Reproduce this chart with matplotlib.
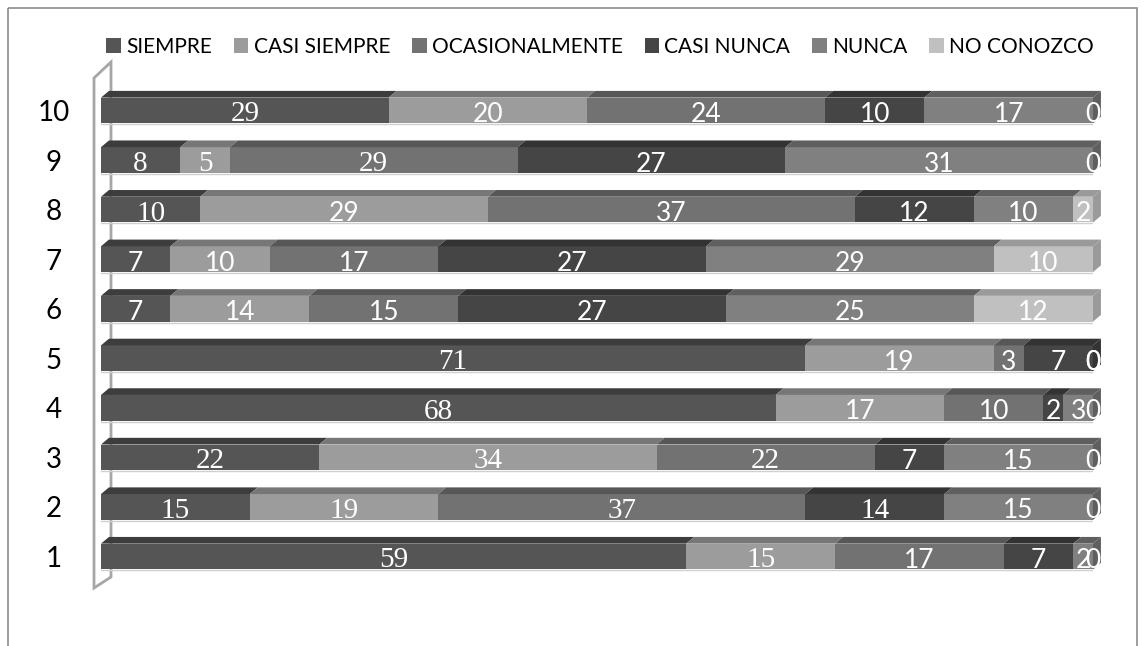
import matplotlib.pyplot as plt
import numpy as np
from matplotlib.patches import Polygon, Rectangle

# datos
filas = ['1', '2', '3', '4', '5', '6', '7', '8', '9', '10']
categorias = ['SIEMPRE', 'CASI SIEMPRE', 'OCASIONALMENTE', 'CASI NUNCA', 'NUNCA', 'NO CONOZCO']
siempre = [59, 15, 22, 68, 71, 7, 7, 10, 8, 29]
casi_siempre = [15, 19, 34, 17, 19, 14, 10, 29, 5, 20]
ocasionalmente = [17, 37, 22, 10, 3, 15, 17, 37, 29, 24]
casi_nunca = [7, 14, 7, 2, 7, 27, 27, 12, 27, 10]
nunca = [2, 15, 15, 3, 0, 25, 29, 10, 31, 17]
no_conozco = [0, 0, 0, 0, 0, 12, 10, 2, 0, 0]

series = [siempre, casi_siempre, ocasionalmente, casi_nunca, nunca, no_conozco]

# colores (frente, cara superior)
frente = ['#555555', '#9c9c9c', '#727272', '#454545', '#808080', '#c0c0c0']
arriba = ['#3d3d3d', '#777777', '#575757', '#333333', '#5f5f5f', '#9a9a9a']

# etiquetas en fuente serif (fila, serie) como en el original
serif_idx = {(0, 0), (0, 1), (1, 0), (1, 1), (1, 2), (1, 3), (2, 0), (2, 1), (2, 2),
             (3, 0), (4, 0), (7, 0), (8, 0), (8, 1), (8, 2), (9, 0)}

W, H = 1146, 646
fig = plt.figure(figsize=(W / 100, H / 100), dpi=100)

# fondo: marco y pared lateral en pixeles
bg = fig.add_axes([0, 0, 1, 1], zorder=0)
bg.set_xlim(0, W)
bg.set_ylim(H, 0)
bg.axis('off')
bg.add_patch(Rectangle((8, 8), 1129, 700, fill=False, ec='#8c8c8c', lw=1.2))
pared = [(94, 588), (94, 78), (111, 62), (111, 577)]
bg.add_patch(Polygon(pared, closed=True, fc='white', ec='#a6a6a6', lw=2))

# ejes principales
ax_l, ax_r = 101, 1093
ax_t, ax_b = 85.7, 581.3
ax = fig.add_axes([ax_l / W, (H - ax_b) / H, (ax_r - ax_l) / W, (ax_b - ax_t) / H], zorder=1)
ax.patch.set_alpha(0)
ax.set_xlim(0, 100)
ax.set_ylim(0.5, 10.5)

y = np.arange(1, len(filas) + 1)
h = 0.52
dx, dy = 0.8, 0.135
izq = np.zeros(len(filas))

for j, vals in enumerate(series):
    vals = np.array(vals, dtype=float)
    ax.barh(y, vals, left=izq, height=h, color=frente[j], edgecolor='none', zorder=2)
    for i in range(len(filas)):
        x0, x1 = izq[i], izq[i] + vals[i]
        yt = y[i] + h / 2
        if vals[i] > 0:
            ax.add_patch(Polygon([(x0, yt), (x1, yt), (x1 + dx, yt + dy), (x0 + dx, yt + dy)],
                                 closed=True, fc=arriba[j], ec='none', zorder=2, clip_on=False))
        if (i, j) in serif_idx:
            fam, fs = ['Liberation Serif'], 21
        else:
            fam, fs = ['Lato', 'DejaVu Sans'], 19
        ax.text((x0 + x1) / 2, y[i] - 0.08, str(int(vals[i])), ha='center', va='center',
                color='white', fontsize=fs, family=fam, zorder=5, clip_on=False)
    izq += vals

# cara lateral derecha y linea inferior
for i in range(len(filas)):
    last = max(j for j in range(len(series)) if series[j][i] > 0)
    x1 = izq[i]
    y0, y1 = y[i] - h / 2, y[i] + h / 2
    ax.add_patch(Polygon([(x1, y0), (x1, y1), (x1 + dx, y1 + dy), (x1 + dx, y0 + dy)],
                         closed=True, fc=arriba[last], ec='none', zorder=2, clip_on=False))
    ax.plot([0, x1], [y0 - 0.02, y0 - 0.02], color='#d0d0d0', lw=1, zorder=1)

ax.set_yticks(y)
ax.set_yticklabels(filas, fontsize=20, family=['Lato', 'DejaVu Sans'])
for lbl in ax.get_yticklabels():
    lbl.set_ha('center')
ax.tick_params(axis='y', length=0, pad=34)
ax.set_xticks([])
for s in ax.spines.values():
    s.set_visible(False)

# leyenda
handles = [Rectangle((0, 0), 1, 1, fc=frente[j], ec='none') for j in range(len(categorias))]
fig.legend(handles, categorias, loc='center', bbox_to_anchor=(600 / W, 1 - 47 / H), ncol=6,
           frameon=False, prop={'family': ['Lato', 'DejaVu Sans'], 'size': 15},
           handlelength=0.7, handleheight=0.7, handletextpad=0.25, columnspacing=1.05)

fig.savefig('out.png', dpi=100)
